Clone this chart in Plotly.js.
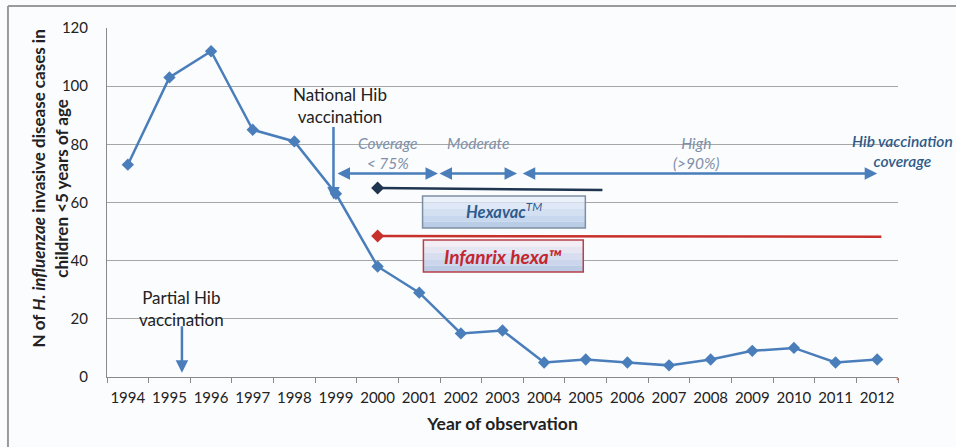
<!DOCTYPE html>
<html>
<head>
<meta charset="utf-8">
<script src="https://cdn.plot.ly/plotly-3.0.1.min.js"></script>
<style>html,body{margin:0;padding:0;background:#fbfcfe;}</style>
</head>
<body>
<div id="chart" style="width:956px;height:447px;"></div>
<script>
// Data
var years = [1994,1995,1996,1997,1998,1999,2000,2001,2002,2003,2004,2005,2006,2007,2008,2009,2010,2011,2012];
var cases = [73,103,112,85,81,63,38,29,15,16,5,6,5,4,6,9,10,5,6];
var yTicks = [0,20,40,60,80,100,120];

// Vaccine periods (start year, end year, level)
var hexavacX = [2000, 2005.4];
var hexavacY = [65, 64.3];
var infanrixX = [2000, 2012.1];
var infanrixY = [48.5, 48.2];

// Coverage periods on the arrow line (level 70)
var coverageLevel = 70;
var coverageSegments = [[1999, 2001.45], [2001.45, 2003.35], [2003.45, 2012]];

var FONT = "Lato, 'Open Sans', sans-serif";
var blue = "#4a7ebb";

var traces = [
  {x: hexavacX, y: hexavacY, mode: 'lines', line: {color: '#1f3550', width: 2.5}, hoverinfo: 'skip'},
  {x: [hexavacX[0]], y: [hexavacY[0]], mode: 'markers', marker: {symbol: 'diamond', size: 10, color: '#1f3550'}, hoverinfo: 'skip'},
  {x: infanrixX, y: infanrixY, mode: 'lines', line: {color: '#c8302c', width: 2.5}, hoverinfo: 'skip'},
  {x: [infanrixX[0]], y: [infanrixY[0]], mode: 'markers', marker: {symbol: 'diamond', size: 10, color: '#c8302c'}, hoverinfo: 'skip'},
  {x: years, y: cases, mode: 'lines+markers', line: {color: blue, width: 2.5}, marker: {symbol: 'diamond', size: 9.5, color: blue}}
];

var shapes = [
  // outer frame (left and top)
  {type: 'line', xref: 'paper', yref: 'paper', x0: -0.1252, x1: -0.1252, y0: 1.063, y1: -0.21, line: {color: '#9a9a9a', width: 2}},
  {type: 'line', xref: 'paper', yref: 'paper', x0: -0.1252, x1: 1.1, y0: 1.063, y1: 1.063, line: {color: '#9a9a9a', width: 2}}
];

function gradBox(x0, x1, y0, y1, border, cols) {
  var n = cols.length, h = (y1 - y0) / n;
  for (var i = 0; i < n; i++) {
    shapes.push({type: 'rect', x0: x0, x1: x1, y0: y1 - (i + 1) * h, y1: y1 - i * h, fillcolor: cols[i], line: {width: 0}, layer: 'above'});
  }
  shapes.push({type: 'rect', x0: x0, x1: x1, y0: y0, y1: y1, fillcolor: 'rgba(0,0,0,0)', line: {color: border, width: 1.5}, layer: 'above'});
}
gradBox(2001.08, 2004.99, 51.2, 62.2, '#7f8ea3', ['#eaf1fa', '#dfe8f6', '#d3e0f2', '#c7d7ed', '#bacde7']);
gradBox(2001.1, 2004.94, 36.1, 47.1, '#b8404a', ['#f3eef4', '#e6e6f2', '#d8deef', '#cbd6ec', '#bccce7']);

var ann = [];
// coverage arrows
coverageSegments.forEach(function (s) {
  ann.push({x: s[1], y: coverageLevel, ax: s[0], ay: coverageLevel, xref: 'x', yref: 'y', axref: 'x', ayref: 'y',
    showarrow: true, arrowhead: 2, startarrowhead: 2, arrowside: 'end+start', arrowsize: 1, startarrowsize: 1,
    arrowwidth: 2.5, arrowcolor: blue, text: ''});
});
// National Hib vaccination arrow
ann.push({x: 1998.94, y: 61, ax: 1998.94, ay: 86.5, xref: 'x', yref: 'y', axref: 'x', ayref: 'y', showarrow: true,
  arrowhead: 2, arrowsize: 1, arrowwidth: 2.5, arrowcolor: blue, text: ''});
// Partial Hib vaccination arrow
ann.push({x: 1995.3, y: 1.5, ax: 1995.3, ay: 18, xref: 'x', yref: 'y', axref: 'x', ayref: 'y', showarrow: true,
  arrowhead: 2, arrowsize: 1, arrowwidth: 2.5, arrowcolor: blue, text: ''});

function txt(x, y, t, size, color, extra) {
  var a = {x: x, y: y, xref: 'x', yref: 'y', text: t, showarrow: false, font: {family: FONT, size: size, color: color}};
  for (var k in extra) a[k] = extra[k];
  ann.push(a);
}
txt(1999.1, 93.5, 'National Hib<br>vaccination', 17, '#222', {align: 'center'});
txt(1995.3, 23.5, 'Partial Hib<br>vaccination', 17, '#222', {align: 'center'});
txt(2000.23, 77, '<i>Coverage<br>< 75%</i>', 15.5, '#8090a8', {align: 'center'});
txt(2002.41, 80.5, '<i>Moderate</i>', 15.5, '#8090a8', {align: 'center'});
txt(2007.67, 77, '<i>High<br>(>90%)</i>', 15.5, '#8090a8', {align: 'center'});
txt(2003.04, 57.1, '<i><b>Hexavac</b></i><sup><i>TM</i></sup>', 16.5, '#2f5b8c', {});
txt(2003.02, 41.3, '<i><b>Infanrix hexa\u2122</b></i>', 19, '#c4262e', {});
ann.push({xref: 'paper', yref: 'paper', x: 1.006, y: 0.648, text: '<i>Hib vaccination<br>coverage</i>', showarrow: false,
  align: 'center', xanchor: 'center', yanchor: 'middle', font: {family: FONT, size: 15.5, color: '#2f5a88', weight: 600}});
ann.push({xref: 'paper', yref: 'paper', x: 0.999, y: -0.012, xanchor: 'center', yanchor: 'middle', text: '*', showarrow: false,
  font: {family: FONT, size: 8, color: '#d03030'}});
// y title
ann.push({xref: 'paper', yref: 'paper', x: -0.0721, y: 0.54, xanchor: 'center', yanchor: 'middle', textangle: -90, showarrow: false, align: 'center',
  text: '<b>N of <i>H. influenzae</i> invasive disease cases in<br>children <5 years of age</b>',
  font: {family: FONT, size: 17, color: '#222'}});

var layout = {
  width: 956, height: 447,
  margin: {l: 107, r: 58, t: 28, b: 70},
  paper_bgcolor: '#fbfcfe', plot_bgcolor: '#fbfcfe',
  showlegend: false,
  font: {family: FONT, size: 15, color: '#222'},
  xaxis: {
    range: [1993.5, 2012.5], tickvals: years, ticktext: years.map(String), ticks: 'outside', ticklen: 7, tickcolor: 'rgba(0,0,0,0)',
    showgrid: false, zeroline: false, showline: true, linecolor: '#8a8a8a', linewidth: 1,
    tickfont: {family: FONT, size: 15, color: '#222'},
    minor: {tickvals: years.map(function (y) { return y - 0.5; }).concat([2012.5]), ticks: 'outside', ticklen: 5, tickcolor: '#8a8a8a', showgrid: false},
    title: {text: '<b>Year of observation</b>', font: {family: FONT, size: 17.5, color: '#222'}, standoff: 12}
  },
  yaxis: {
    range: [0, 120], tickvals: yTicks, ticks: 'outside', ticklen: 15, tickcolor: 'rgba(0,0,0,0)',
    showgrid: true, gridcolor: '#a6a6a6', gridwidth: 1, zeroline: false,
    showline: true, linecolor: '#8a8a8a', linewidth: 1,
    tickfont: {family: FONT, size: 15, color: '#222'}
  },
  shapes: shapes,
  annotations: ann
};

Plotly.newPlot('chart', traces, layout, {displayModeBar: false, staticPlot: true});
</script>
</body>
</html>
